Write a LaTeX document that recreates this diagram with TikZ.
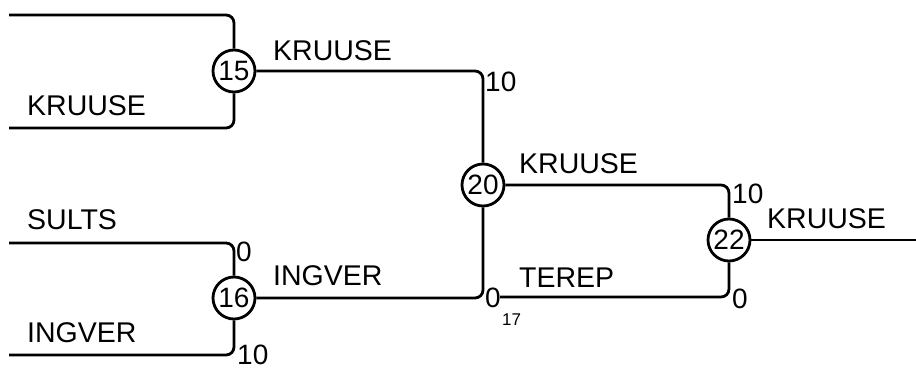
\documentclass[tikz,border=0pt]{standalone}
\usepackage{fontspec}
\setmainfont{Liberation Sans}
\begin{document}
\begin{tikzpicture}[x=1pt,y=-1pt,
  wire/.style={line width=2.8pt,rounded corners=8pt},
  junc/.style={circle,draw,line width=2.8pt,minimum size=42pt,inner sep=0pt,font=\fontsize{28}{30}\selectfont},
  lab/.style={anchor=base west,inner sep=0pt,font=\fontsize{28.5}{30}\selectfont},
  num/.style={anchor=base west,inner sep=0pt,font=\fontsize{28}{30}\selectfont},
  sub/.style={anchor=base west,inner sep=0pt,font=\fontsize{17}{18}\selectfont}]
\useasboundingbox (0,0) rectangle (916,370);
\node[junc] (n15) at (234,71) {15};
\node[junc] (n16) at (234,298) {16};
\node[junc] (n20) at (483,185) {20};
\node[junc] (n22) at (729,240) {22};
\coordinate (i1) at (9,15);
\coordinate (i2) at (9,128);
\coordinate (i3) at (9,243);
\coordinate (i4) at (9,355);
\coordinate (c17) at (500,297);
\coordinate (out) at (916,240);
\draw[wire] (i1) -| (n15);
\draw[wire] (i2) -| (n15);
\draw[wire] (i3) -| (n16);
\draw[wire] (i4) -| (n16);
\draw[wire] (n15) -| (n20);
\draw[wire] (n16) -| (n20);
\draw[wire] (n20) -| (n22);
\draw[wire] (c17) -| (n22);
\draw[wire] (n22) -- (out);
\node[lab] (l1) at (27,115) {KRUUSE};
\node[lab] (l2) at (27,229) {SULTS};
\node[lab] (l3) at (27,342) {INGVER};
\node[lab] (l4) at (273,60) {KRUUSE};
\node[lab] (l5) at (273,285) {INGVER};
\node[lab] (l6) at (519,173) {KRUUSE};
\node[lab] (l7) at (519,287) {TEREP};
\node[lab] (l8) at (767,228) {KRUUSE};
\node[num] (d1) at (485,91) {10};
\node[num] (d2) at (236,261) {0};
\node[num] (d3) at (237,364) {10};
\node[num] (d4) at (732,203) {10};
\node[num] (d5) at (732,308) {0};
\node[num] (d6) at (485,307) {0};
\node[sub] (d7) at (502,325) {17};
\end{tikzpicture}
\end{document}
